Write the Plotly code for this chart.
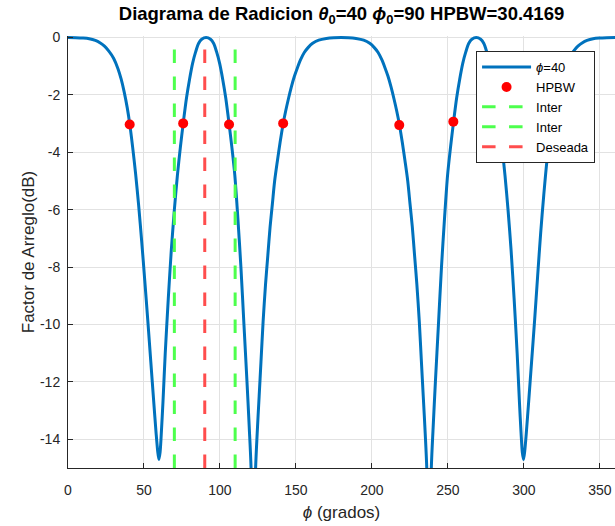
import plotly.graph_objects as go

# ---- data ----
phi_deg = [0, 5, 10, 14, 18, 21, 24, 27, 30, 33, 35, 37, 39, 40.6, 42.5, 44.5, 46.5, 48.5,
           50.5, 52.5, 54.5, 56.5, 58, 59, 59.8, 60.6, 61.3, 62.5, 64, 66, 68, 70, 72, 74,
           75.8, 78, 80, 82, 84, 86, 88, 90.9, 93.8, 95.8, 97.8, 99.8, 101.8, 103.8, 106.0,
           107.8, 109.8, 111.8, 113.8, 115.8, 117.8, 119.3, 120.6, 122.1, 123.3, 124.5,
           125.8, 127.0, 128.4, 130.0, 131.5, 133.0, 134.5, 136.0, 137.8, 139.6, 141.6,
           143.3, 145.0, 147.0, 149.0, 151.0, 153.0, 155.5, 158.0, 161.0, 165.0, 170.0,
           175.0, 179.8, 184.6, 189.6, 194.6, 198.6, 201.6, 204.1, 206.6, 208.6, 210.6,
           212.6, 214.6, 216.3, 218.0, 220.0, 221.8, 223.6, 225.1, 226.6, 228.1, 229.6,
           231.2, 232.6, 233.8, 235.1, 236.3, 237.6, 239.0, 240.3, 241.8, 243.8, 245.8,
           247.8, 249.8, 251.8, 253.6, 255.8, 257.8, 259.8, 261.8, 263.8, 265.8, 268.7,
           271.6, 273.6, 275.6, 277.6, 279.6, 281.6, 283.8, 285.6, 287.6, 289.6, 291.6,
           293.6, 295.6, 297.1, 298.3, 299.0, 299.8, 300.6, 301.6, 303.1, 305.1, 307.1,
           309.1, 311.1, 313.1, 315.1, 317.1, 319.0, 320.6, 322.6, 324.6, 326.6, 329.6,
           332.6, 335.6, 338.6, 341.6, 345.6, 349.6, 354.6, 360]
af_db = [0, -0.003, -0.015, -0.04, -0.1, -0.18, -0.3, -0.48, -0.72, -1.1, -1.45, -1.9, -2.45,
         -3.0, -3.8, -4.75, -5.85, -7.1, -8.45, -9.85, -11.3, -12.75, -13.8, -14.4, -14.7,
         -14.45, -13.9, -12.7, -11.0, -9.1, -7.4, -6.0, -4.8, -3.8, -3.0, -2.1, -1.45, -0.9,
         -0.5, -0.2, -0.06, 0, -0.06, -0.2, -0.5, -0.9, -1.45, -2.1, -3.0, -3.8, -4.8, -6.3,
         -8.0, -10.0, -12.0, -13.6, -15.2, -24, -15.3, -13.8, -12.5, -11.3, -9.9, -8.6,
         -7.6, -6.6, -5.8, -5.0, -4.3, -3.65, -3.0, -2.55, -2.15, -1.72, -1.35, -1.05,
         -0.78, -0.52, -0.35, -0.2, -0.09, -0.03, -0.005, 0, -0.005, -0.03, -0.09, -0.2,
         -0.35, -0.52, -0.78, -1.05, -1.35, -1.72, -2.15, -2.55, -3.0, -3.65, -4.3, -5.0,
         -5.8, -6.6, -7.6, -8.6, -9.9, -11.3, -12.5, -13.8, -15.3, -24, -15.2, -13.6, -12.0,
         -10.0, -8.0, -6.3, -4.8, -3.8, -3.0, -2.1, -1.45, -0.9, -0.5, -0.2, -0.06, 0,
         -0.06, -0.2, -0.5, -0.9, -1.45, -2.1, -3.0, -3.8, -4.8, -6.0, -7.4, -9.1, -11.0,
         -12.7, -13.9, -14.45, -14.7, -14.4, -13.8, -12.75, -11.3, -9.85, -8.3, -6.8, -5.5,
         -4.35, -3.5, -2.85, -2.4, -1.88, -1.45, -1.1, -0.72, -0.48, -0.3, -0.18, -0.1,
         -0.04, -0.015, -0.003, 0]

hpbw_phi = [40.6, 75.8, 106.0, 141.6, 218.0, 253.6, 283.8, 318.5]
hpbw_db = [-3.03, -2.99, -3.03, -2.99, -3.05, -2.93, -3.0, -3.0]

inter_phi = [70, 110]
deseada_phi = 90
y_span = [-15, 0]

x_ticks = [0, 50, 100, 150, 200, 250, 300, 350]
x_ticklabels = ["0", "50", "100", "150", "200", "250", "300", "350"]
y_ticks = [0, -2, -4, -6, -8, -10, -12, -14]
y_ticklabels = ["0", "-2", "-4", "-6", "-8", "-10", "-12", "-14"]

title_text = ("<b>Diagrama de Radicion <i>θ</i><sub>0</sub>=40 "
              "<i>ϕ</i><sub>0</sub>=90 HPBW=30.4169</b>")

FONT = "Liberation Sans, Arial, Helvetica, sans-serif"
AX = "#262626"

fig = go.Figure()
fig.add_trace(go.Scatter(x=phi_deg, y=af_db, mode="lines", name="<i>ϕ</i>=40",
                         line=dict(color="#0072BD", width=3, shape="spline", smoothing=0.8)))
fig.add_trace(go.Scatter(x=hpbw_phi, y=hpbw_db, mode="markers", name="HPBW",
                         marker=dict(color="#FF0000", size=10)))
for xv in inter_phi:
    fig.add_trace(go.Scatter(x=[xv, xv], y=y_span, mode="lines", name="Inter",
                             line=dict(color="#4DFF4D", width=3, dash="13.5px,13.5px")))
fig.add_trace(go.Scatter(x=[deseada_phi, deseada_phi], y=y_span, mode="lines", name="Deseada",
                         line=dict(color="#FF4D4D", width=3, dash="13.5px,13.5px")))

fig.update_layout(
    width=615, height=526,
    margin=dict(l=68, r=0, t=36, b=58),
    paper_bgcolor="white", plot_bgcolor="white",
    font=dict(family=FONT, color=AX, size=14),
    title=dict(text=title_text, x=0.5, xref="paper", xanchor="center",
               y=1 - 14 / 526, yref="container", yanchor="middle",
               font=dict(family=FONT, size=18.5, color="black")),
    showlegend=True,
    legend=dict(x=0.746, y=0.965, xanchor="left", yanchor="top",
                bgcolor="white", bordercolor=AX, borderwidth=1,
                font=dict(family=FONT, size=13, color="black"),
                itemwidth=49, tracegroupgap=0),
)
fig.update_xaxes(range=[0, 360], tickvals=x_ticks, ticktext=x_ticklabels,
                 showgrid=True, gridcolor="#E2E2E2", gridwidth=1,
                 showline=True, linecolor=AX, linewidth=1, mirror=False,
                 ticks="inside", ticklen=5, tickcolor=AX, zeroline=False,
                 tickfont=dict(size=14, color=AX), ticklabelstandoff=9,
                 title=dict(text="<i>ϕ</i> (grados)", font=dict(size=17, color=AX), standoff=9))
fig.update_yaxes(range=[-15, 0.055], tickvals=y_ticks, ticktext=y_ticklabels,
                 showgrid=True, gridcolor="#E2E2E2", gridwidth=1,
                 showline=True, linecolor=AX, linewidth=1, mirror=False,
                 ticks="inside", ticklen=5, tickcolor=AX, zeroline=False,
                 tickfont=dict(size=14, color=AX), ticklabelstandoff=4,
                 title=dict(text="Factor de Arreglo(dB)", font=dict(size=17, color=AX), standoff=1))

fig.write_html("out.html")
